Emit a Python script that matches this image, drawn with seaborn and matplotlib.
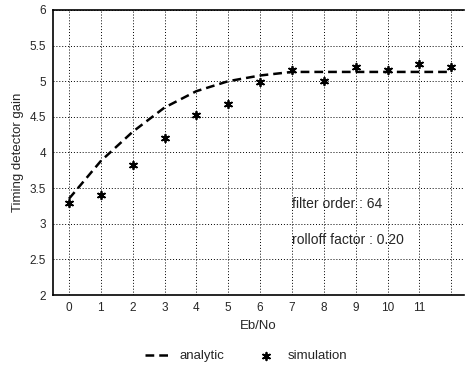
import matplotlib
matplotlib.use("Agg")
import matplotlib.pyplot as plt
import seaborn as sns
import pandas as pd
import numpy as np

sns.set_style("white")
plt.rcParams['font.family'] = ['Liberation Sans', 'DejaVu Sans']

ebno = [0, 1, 2, 3, 4, 5, 6, 7, 8, 9, 10, 11, 12]
analytic = [3.35, 3.88, 4.29, 4.63, 4.86, 5.0, 5.08, 5.13, 5.13, 5.13, 5.13, 5.13, 5.13]
simulation = [3.29, 3.40, 3.83, 4.20, 4.52, 4.68, 4.99, 5.16, 5.00, 5.20, 5.16, 5.24, 5.20]
xtick_labels = ["0", "1", "2", "3", "4", "5", "6", "7", "8", "9", "10", "11", ""]
ytick_vals = [2, 2.5, 3, 3.5, 4, 4.5, 5, 5.5, 6]
ytick_labels = ["2", "2.5", "3", "3.5", "4", "4.5", "5", "5.5", "6"]

df = pd.DataFrame({"Eb/No": ebno, "analytic": analytic, "simulation": simulation})

fig = plt.figure(figsize=(4.67, 3.67), dpi=100)
ax = fig.add_axes([0.1135, 0.196, 0.88, 0.777])

sns.lineplot(data=df, x="Eb/No", y="analytic", ax=ax, color="black",
             linestyle=(0, (3.5, 2)), linewidth=1.8, label="analytic")
sns.scatterplot(data=df, x="Eb/No", y="simulation", ax=ax, color="black",
                marker=(6, 2, 0), s=30, linewidth=1.3, label="simulation")

ax.set_xlim(-0.5, 12.4)
ax.set_ylim(2, 6)
ax.set_xticks(ebno)
ax.set_xticklabels(xtick_labels)
ax.set_yticks(ytick_vals)
ax.set_yticklabels(ytick_labels)
ax.tick_params(axis="both", labelsize=8.5, length=3, direction="inout", width=0.8)
ax.grid(True, color="black", linestyle=(0, (1, 2)), linewidth=0.7)
for s in ["left", "bottom", "top"]:
    ax.spines[s].set_color("black")
    ax.spines[s].set_linewidth(1.2)
ax.spines["right"].set_visible(False)

ax.set_xlabel("Eb/No", fontsize=9.5)
ax.set_ylabel("Timing detector gain", fontsize=9.5)

ax.text(7.0, 3.28, "filter order : 64", fontsize=10, va="center", ha="left")
ax.text(7.0, 2.77, "rolloff factor : 0.20", fontsize=10, va="center", ha="left")

ax.legend(loc="center", bbox_to_anchor=(0.47, -0.215), ncol=2, frameon=False,
          fontsize=9.5, handlelength=2.0, columnspacing=2.2, handletextpad=0.6)

fig.savefig("out.png", dpi=100)
